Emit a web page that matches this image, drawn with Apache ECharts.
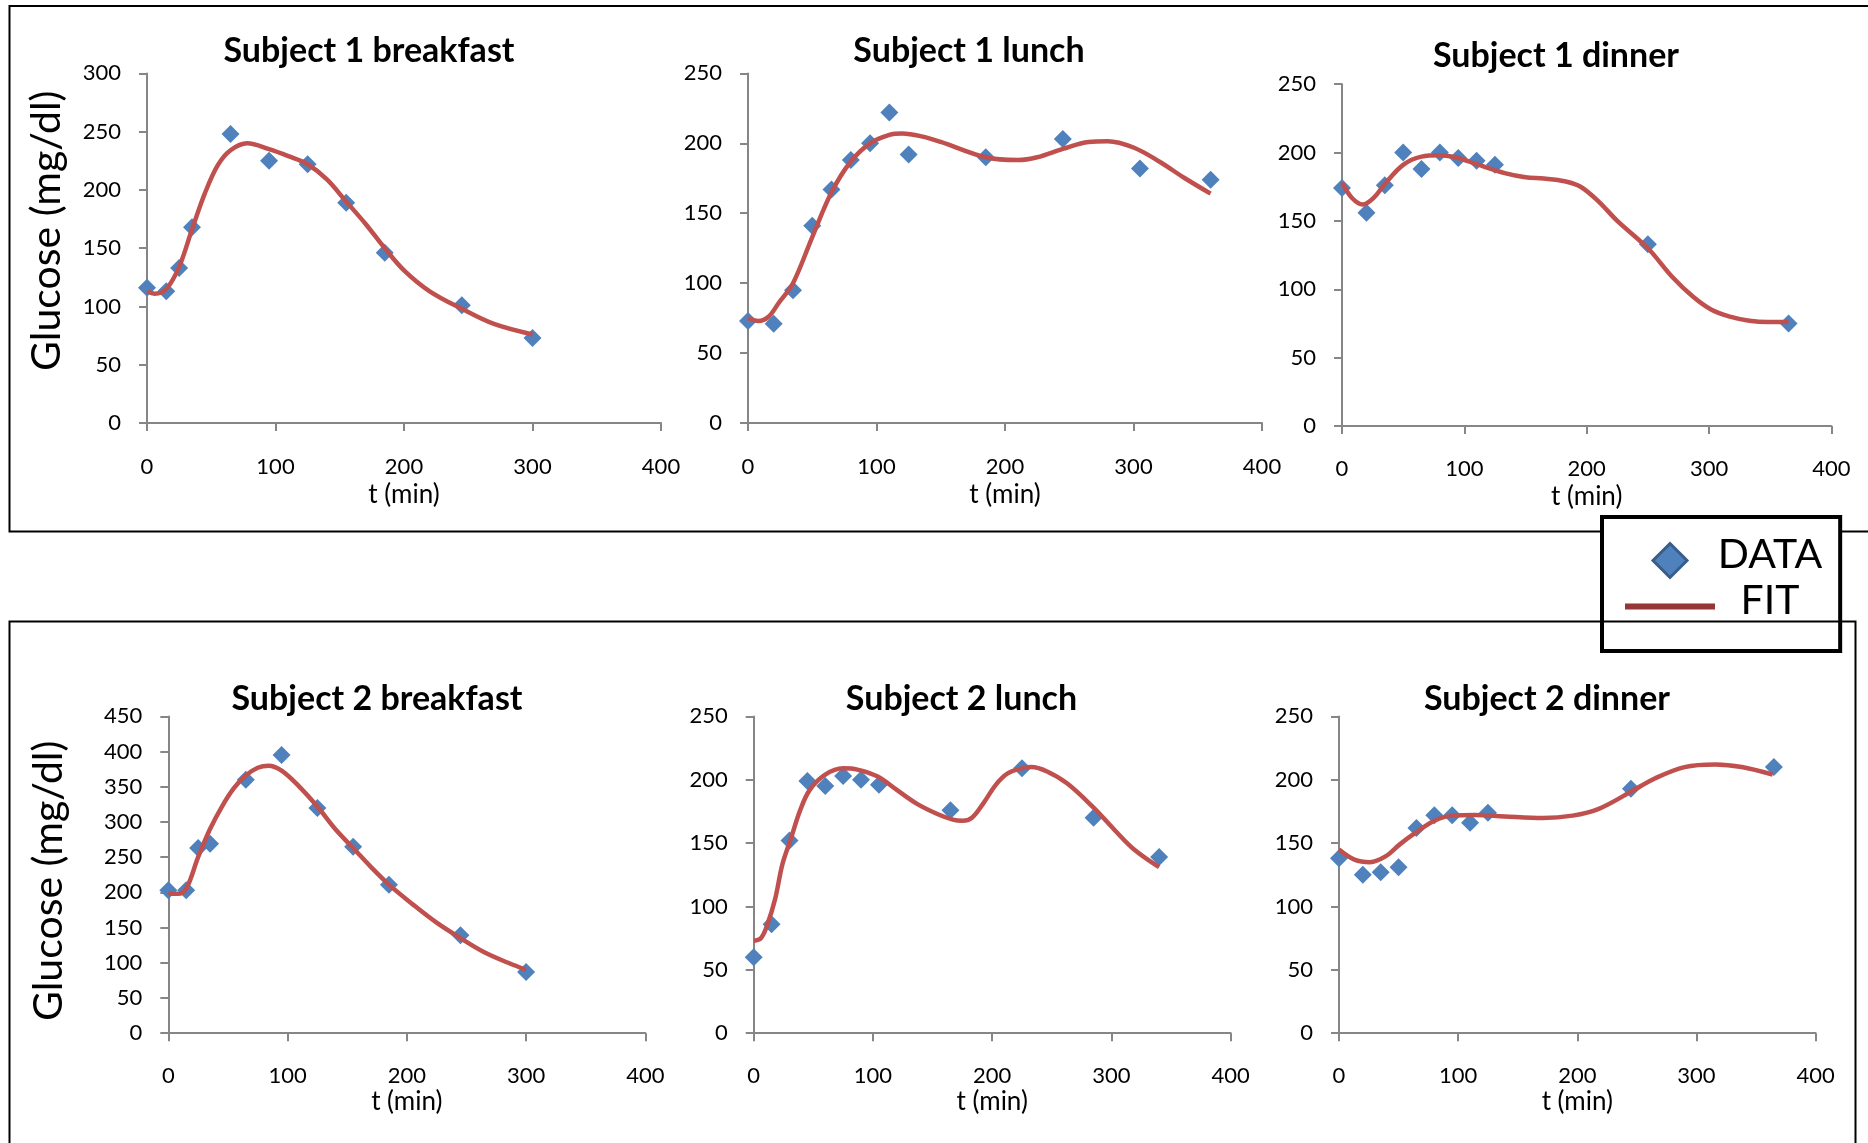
<!DOCTYPE html>
<html><head><meta charset="utf-8">
<script src="https://cdn.jsdelivr.net/npm/echarts@6/dist/echarts.min.js"></script>
<style>html,body{margin:0;padding:0;background:#fff}#c{width:1868px;height:1143px}</style>
</head><body><div id="c"></div>
<script>
// ---------- DATA ----------
const titles = ['Subject 1 breakfast','Subject 1 lunch','Subject 1 dinner','Subject 2 breakfast','Subject 2 lunch','Subject 2 dinner'];
const yMax = [300, 250, 250, 450, 250, 250];
const xTicks = [0, 100, 200, 300, 400];

// Subject 1 breakfast
const s1bT = [0, 15, 25, 35, 65, 95, 125, 155, 185, 245, 300];
const s1bG = [116, 113, 133, 168, 248, 225, 222, 189, 146, 101, 73];
const s1bFitT = [0, 6, 15, 25, 35, 45, 55, 65, 78, 95, 110, 125, 140, 155, 170, 185, 200, 220, 245, 270, 300];
const s1bFitG = [113, 111, 115, 134, 166, 197, 221, 234, 240, 235, 229, 222, 209, 190, 171, 150, 131, 113, 98, 85, 76];

// Subject 1 lunch
const s1lT = [0, 20, 35, 50, 65, 80, 95, 110, 125, 185, 245, 305, 360];
const s1lG = [73, 71, 95, 141, 167, 188, 200, 222, 192, 190, 203, 182, 174];
const s1lFitT = [0, 8, 16, 24, 35, 50, 65, 80, 95, 110, 120, 135, 150, 185, 210, 225, 245, 265, 280, 300, 320, 340, 360];
const s1lFitG = [75, 73, 76, 86, 100, 133, 165, 187, 200, 206, 207, 205, 201, 190, 188, 190, 196, 201, 201.5, 197, 187, 175, 164];

// Subject 1 dinner
const s1dT = [0, 20, 35, 50, 65, 80, 95, 110, 125, 250, 365];
const s1dG = [174, 156, 176, 200, 188, 200, 196, 194, 191, 133, 75];
const s1dFitT = [0, 8, 17, 26, 35, 50, 65, 80, 95, 110, 133, 150, 165, 182, 195, 210, 225, 250, 270, 287, 302, 317, 333, 348, 365];
const s1dFitG = [178, 167, 162, 167, 177, 191, 197, 198, 196, 191.5, 185, 182, 181, 179, 175, 164, 150, 130, 109, 94.5, 85, 80, 77, 76, 76];

// Subject 2 breakfast
const s2bT = [0, 15, 25, 35, 65, 95, 125, 155, 185, 245, 300];
const s2bG = [203, 203, 263, 269, 360, 395, 320, 265, 211, 139, 87];
const s2bFitT = [0, 8, 15, 25, 35, 45, 55, 65, 75, 84, 95, 110, 125, 140, 155, 170, 185, 205, 225, 246, 265, 285, 300];
const s2bFitG = [198, 198, 205, 250, 290, 322, 348, 366, 377, 380, 373, 350, 322, 290, 263, 236, 211, 183, 157, 134, 115, 100, 90];

// Subject 2 lunch
const s2lT = [0, 15, 30, 45, 60, 75, 90, 105, 165, 225, 285, 340];
const s2lG = [60, 86, 152, 199, 195, 203, 200, 196, 176, 209, 170, 139];
const s2lFitT = [0, 6, 11, 18, 24, 31, 39, 47, 60, 75, 87, 104, 120, 137, 154, 167, 175, 183, 193, 203, 213, 225, 233, 246, 263, 285, 303, 319, 340];
const s2lFitG = [73, 75, 84.5, 106, 133, 153, 176, 192, 204, 209, 208, 202.5, 192, 181, 173, 168.5, 167.6, 170, 182, 196, 205, 209, 210, 206.5, 197, 178, 160, 145, 131];

// Subject 2 dinner
const s2dT = [0, 20, 35, 50, 65, 80, 95, 110, 125, 245, 365];
const s2dG = [138, 125, 127, 131, 162, 172, 172, 166, 174, 193, 210];
const s2dFitT = [0, 13, 26, 39, 51, 64, 80, 95, 114, 139, 171, 196, 218, 245, 265, 290, 316, 338, 364];
const s2dFitG = [145, 137, 135, 139.5, 149, 158, 167.6, 171.7, 172.2, 171, 169.8, 171.7, 177, 190.5, 201, 210, 212, 210, 204];

// ---------- LAYOUT / STYLE ----------
const FONT = 'Lato';
const AXIS_COLOR = '#868686';
const DATA_COLOR = '#4F81BD';
const FIT_COLOR = '#C0504D';

const panelData = [
  [s1bT, s1bG, s1bFitT, s1bFitG],
  [s1lT, s1lG, s1lFitT, s1lFitG],
  [s1dT, s1dG, s1dFitT, s1dFitG],
  [s2bT, s2bG, s2bFitT, s2bFitG],
  [s2lT, s2lG, s2lFitT, s2lFitG],
  [s2dT, s2dG, s2dFitT, s2dFitG]
];
const layout = [
  {grid:{left:147, top:73.4, width:514, height:349.6}, title:[369, 34], xLabelMargin:33, xNameGap:59, yName:true, yNameGap:80, yNamePad:[0,0,0,35]},
  {grid:{left:748, top:73.4, width:514, height:349.6}, title:[969, 34], xLabelMargin:33, xNameGap:59},
  {grid:{left:1342, top:84.2, width:489.4, height:341.8}, title:[1556, 38.6], xLabelMargin:32, xNameGap:58},
  {grid:{left:168.3, top:716.4, width:477, height:316.8}, title:[377, 682], xLabelMargin:32, xNameGap:55, yName:true, yNameGap:99, yNamePad:[0,12,0,0]},
  {grid:{left:753.7, top:716.4, width:477, height:316.8}, title:[961.5, 682], xLabelMargin:32, xNameGap:55},
  {grid:{left:1339, top:716.4, width:476.6, height:316.8}, title:[1547, 682], xLabelMargin:32, xNameGap:55}
];

const grids = [], xAxes = [], yAxes = [], series = [], titleOpts = [];
const axisLineStyle = {color: AXIS_COLOR, width: 2};
layout.forEach((L, i) => {
  grids.push(Object.assign({containLabel:false}, L.grid));
  titleOpts.push({
    text: titles[i], left: L.title[0], top: L.title[1], textAlign: 'center',
    padding: 0,
    textStyle: {fontFamily: FONT, fontWeight: 'bold', fontSize: 34, color: '#000'}
  });
  xAxes.push({
    type: 'value', gridIndex: i, min: xTicks[0], max: xTicks[xTicks.length-1], interval: xTicks[1]-xTicks[0],
    axisLine: {show: true, onZero: false, lineStyle: axisLineStyle},
    axisTick: {show: true, length: 8, lineStyle: axisLineStyle},
    axisLabel: {margin: L.xLabelMargin, fontSize: 22, fontFamily: FONT, color: '#000'},
    splitLine: {show: false},
    name: 't (min)', nameLocation: 'middle', nameGap: L.xNameGap,
    nameTextStyle: {fontSize: 26, fontFamily: FONT, color: '#000'}
  });
  const ya = {
    type: 'value', gridIndex: i, min: 0, max: yMax[i], interval: 50,
    axisLine: {show: true, lineStyle: axisLineStyle},
    axisTick: {show: true, length: 8, lineStyle: axisLineStyle},
    axisLabel: {margin: 26, fontSize: 22, fontFamily: FONT, color: '#000'},
    splitLine: {show: false}
  };
  if (L.yName) {
    Object.assign(ya, {
      name: 'Glucose (mg/dl)', nameLocation: 'middle', nameGap: L.yNameGap, nameRotate: 90,
      nameTextStyle: {fontSize: 41, fontFamily: FONT, color: '#000', padding: L.yNamePad}
    });
  }
  yAxes.push(ya);
  const [t, g, ft, fg] = panelData[i];
  series.push({
    name: 'DATA', type: 'scatter', xAxisIndex: i, yAxisIndex: i,
    symbol: 'diamond', symbolSize: 18,
    itemStyle: {color: DATA_COLOR, opacity: 1},
    data: t.map((v, k) => [v, g[k]]), z: 2, silent: true
  });
  series.push({
    name: 'FIT', type: 'line', xAxisIndex: i, yAxisIndex: i,
    smooth: 0.35, symbol: 'none', showSymbol: false,
    lineStyle: {color: FIT_COLOR, width: 4.5}, itemStyle: {color: FIT_COLOR},
    data: ft.map((v, k) => [v, fg[k]]), z: 3, silent: true
  });
});

const chart = echarts.init(document.getElementById('c'), null, {renderer: 'canvas'});
chart.setOption({
  animation: false,
  backgroundColor: '#fff',
  title: titleOpts,
  grid: grids,
  xAxis: xAxes,
  yAxis: yAxes,
  series: series,
  legend: {
    left: 1602, top: 517, orient: 'vertical',
    itemWidth: 90, itemHeight: 34, itemGap: 1,
    padding: [17, 18, 30, 23],
    borderColor: '#000', borderWidth: 4, backgroundColor: '#fff', borderRadius: 0,
    selectedMode: false, z: 5, symbolKeepAspect: true,
    formatter: '{a|{name}}',
    textStyle: {fontSize: 41, fontFamily: FONT, color: '#000',
      rich: {a: {width: 100, align: 'center', fontSize: 41, fontFamily: FONT, color: '#000', padding: [0, 0, 12, 0]}}},
    data: [
      {name: 'DATA', icon: 'path://M1,0L2,1L1,2L0,1Z', symbolKeepAspect: true,
       itemStyle: {color: DATA_COLOR, borderColor: '#385D8A', borderWidth: 3}},
      {name: 'FIT', icon: 'path://M0,0L90,0L90,6L0,6Z', symbolKeepAspect: true,
       itemStyle: {color: '#953735', borderWidth: 0}}
    ]
  },
  graphic: {elements: [
    {type: 'rect', z: 0, shape: {x: 9.5, y: 6, width: 1880, height: 525.5},
     style: {fill: null, stroke: '#000', lineWidth: 2}, silent: true},
    {type: 'rect', z: 100, shape: {x: 9.5, y: 621.5, width: 1846, height: 600},
     style: {fill: null, stroke: '#000', lineWidth: 2}, silent: true}
  ]}
});
</script></body></html>
